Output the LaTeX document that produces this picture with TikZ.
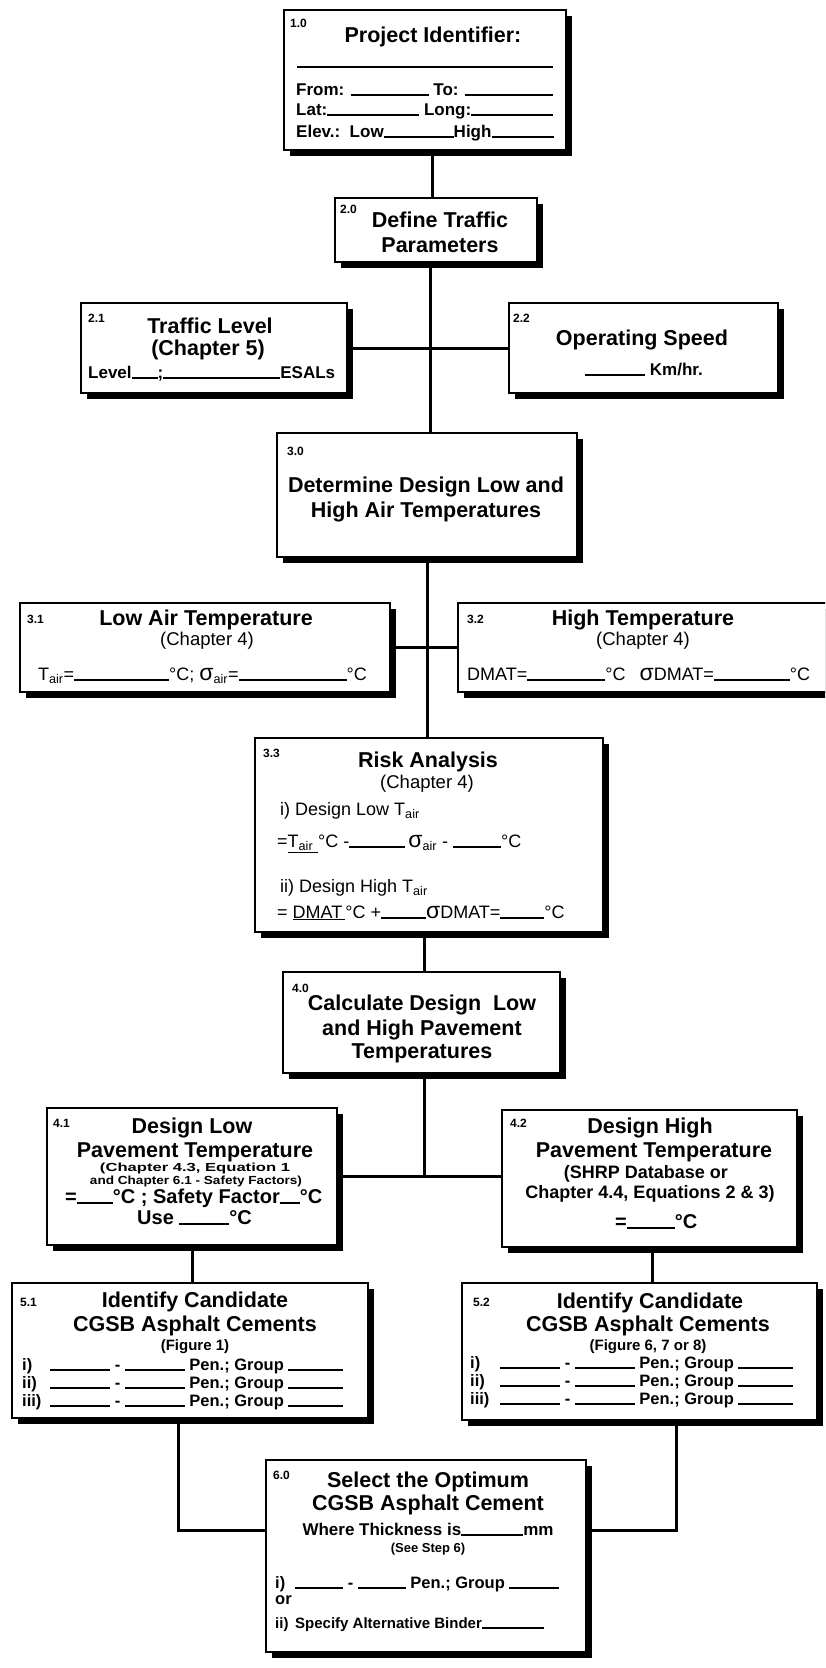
\documentclass[tikz,border=0pt]{standalone}
\usepackage{fontspec}
\setmainfont{Liberation Sans}
\usepackage{graphicx}
\usetikzlibrary{shadows}
\newcommand{\bl}[1]{\rule[-0.6pt]{#1pt}{1.8pt}}
\newcommand{\sbs}[1]{\textsubscript{#1}}
\newcommand{\sig}{{\fontsize{23}{23}\selectfont σ}}
\newcommand{\crow}[4]{\makebox[#1pt][l]{#2}\bl{#3} - \bl{#3} Pen.; Group \bl{#4}}
\newcommand{\bx}[5]{\node[box, minimum width={#4pt-#2pt}, minimum height={#5pt-#3pt}] (#1) at ({(#2+#4)/2},{(#3+#5)/2}) {};}
\begin{document}
\begin{tikzpicture}[x=1pt,y=-1pt,
  box/.style={draw, line width=2.6pt, fill=white, inner sep=0pt,
    drop shadow={shadow xshift=6pt, shadow yshift=-6pt, fill=black, opacity=1}},
  num/.style={anchor=base west, inner sep=0pt, font=\fontsize{12}{14}\selectfont\bfseries},
  ttl/.style={anchor=base, inner sep=0pt, font=\fontsize{21.5}{24}\selectfont\bfseries},
  chp/.style={anchor=base, inner sep=0pt, font=\fontsize{18.5}{20}\selectfont},
  med/.style={anchor=base, inner sep=0pt, font=\fontsize{18}{20}\selectfont\bfseries},
  txt/.style={anchor=base west, inner sep=0pt, font=\fontsize{17}{20}\selectfont\bfseries},
  ctx/.style={anchor=base, inner sep=0pt, font=\fontsize{17}{20}\selectfont\bfseries},
  rtx/.style={anchor=base west, inner sep=0pt, font=\fontsize{18}{20}\selectfont},
  row/.style={anchor=base west, inner sep=0pt, font=\fontsize{16.5}{18}\selectfont\bfseries},
  wire/.style={line width=3pt}]
\useasboundingbox (0,0) rectangle (825,1668);
\clip (0,0) rectangle (825,1668);
\fill[white] (0,0) rectangle (825,1668);

% boxes
\bx{b10}{284}{10}{566}{150}
\bx{b20}{335}{198}{537}{262}
\bx{b21}{81}{303}{347}{393}
\bx{b22}{509}{303}{778}{393}
\bx{b30}{277}{433}{577}{557}
\bx{b31}{20}{603}{390}{692}
\bx{b32}{458}{603}{840}{692}
\bx{b33}{255}{738}{603}{932}
\bx{b40}{283}{972}{560}{1073}
\bx{b41}{47}{1108}{337}{1245}
\bx{b42}{502}{1110}{797}{1247}
\bx{b51}{12}{1283}{368}{1418}
\bx{b52}{462}{1283}{817}{1420}
\bx{b60}{266}{1460}{586}{1652}

% connectors
\coordinate (s1) at (432,0);
\coordinate (s2) at (430,0);
\coordinate (s3) at (427,0);
\coordinate (s4) at (424,0);
\coordinate (s5) at (652,0);
\coordinate (c1) at (178,1530);
\coordinate (c2) at (676,1530);
\draw[wire] (b10.south -| s1) -- (b20.north -| s1);
\draw[wire] (b20.south -| s2) -- (b30.north -| s2);
\draw[wire] (b21.east) -- (b21.east -| b22.west);
\draw[wire] (b30.south -| s3) -- (b33.north -| s3);
\draw[wire] (b31.east) -- (b31.east -| b32.west);
\draw[wire] (b33.south -| s4) -- (b40.north -| s4);
\draw[wire] (b40.south -| s4) -- (b41.east -| s4);
\draw[wire] (b41.east) -- (b41.east -| b42.west);
\draw[wire] (b41.south) -- (b41.south |- b51.north);
\draw[wire] (b42.south -| s5) -- (b52.north -| s5);
\draw[wire] (b51.south -| c1) |- (b60.west |- c1);
\draw[wire] (b52.south -| c2) |- (b60.east |- c2);

% 1.0
\node[num] (n10) at (290,27) {1.0};
\node[ttl] (t10) at (433,42) {Project Identifier:};
\draw[line width=1.8pt] (297,67) -- (553,67);
\node[txt] (r101) at (296,95) {From: \bl{78} To: \bl{88}};
\node[txt] (r102) at (296,115) {Lat:\bl{92} Long:\bl{82}};
\node[txt] (r103) at (296,137) {Elev.:\ \ Low\bl{70}High\bl{62}};

% 2.0
\node[num] (n20) at (340,213) {2.0};
\node[ttl] (t20a) at (440,227) {Define Traffic};
\node[ttl] (t20b) at (440,252) {Parameters};

% 2.1
\node[num] (n21) at (88,322) {2.1};
\node[ttl] (t21a) at (210,333) {Traffic Level};
\node[ttl] (t21b) at (208,355) {(Chapter 5)};
\node[txt] (r21) at (88,378) {Level\bl{26};\bl{117}ESALs};

% 2.2
\node[num] (n22) at (513,322) {2.2};
\node[ttl] (t22) at (642,345) {Operating Speed};
\node[txt] (r22) at (585,375) {\bl{60} Km/hr.};

% 3.0
\node[num] (n30) at (287,455) {3.0};
\node[ttl] (t30a) at (426,492) {Determine Design Low and};
\node[ttl] (t30b) at (426,517) {High Air Temperatures};

% 3.1
\node[num] (n31) at (27,623) {3.1};
\node[ttl] (t31) at (206,625) {Low Air Temperature};
\node[chp] (c31) at (207,645) {(Chapter 4)};
\node[rtx] (r31) at (38,680) {T\sbs{air}=\bl{95}°C; \sig\sbs{air}=\bl{108}°C};

% 3.2
\node[num] (n32) at (467,623) {3.2};
\node[ttl] (t32) at (643,625) {High Temperature};
\node[chp] (c32) at (643,645) {(Chapter 4)};
\node[rtx] (r32) at (467,680) {DMAT=\bl{78}°C\hspace{14pt}\sig DMAT=\bl{76}°C};

% 3.3
\node[num] (n33) at (263,757) {3.3};
\node[ttl] (t33) at (428,767) {Risk Analysis};
\node[chp] (c33) at (427,788) {(Chapter 4)};
\node[rtx] (r331) at (280,815) {i) Design Low T\sbs{air}};
\node[rtx] (r332) at (277,847) {=\underline{T\sbs{air}\ }°C -\bl{56}\,\sig\sbs{air} - \bl{48}°C};
\node[rtx] (r333) at (280,892) {ii) Design High T\sbs{air}};
\node[rtx] (r334) at (277,918) {= \underline{DMAT\,}°C +\bl{45}\sig DMAT=\bl{44}°C};

% 4.0
\node[num] (n40) at (292,992) {4.0};
\node[ttl] (t40a) at (422,1010) {Calculate Design\ \ Low};
\node[ttl] (t40b) at (422,1035) {and High Pavement};
\node[ttl] (t40c) at (422,1058) {Temperatures};

% 4.1
\node[num] (n41) at (53,1127) {4.1};
\node[ttl] (t41a) at (192,1133) {Design Low};
\node[ttl] (t41b) at (195,1157) {Pavement Temperature};
\node[anchor=base, inner sep=0pt] (c41a) at (195,1171) {\resizebox{190pt}{8.5pt}{\fontsize{12}{14}\selectfont\bfseries (Chapter 4.3, Equation 1}};
\node[anchor=base, inner sep=0pt] (c41b) at (196,1184) {\resizebox{212pt}{8.5pt}{\fontsize{12}{14}\selectfont\bfseries and Chapter 6.1 - Safety Factors)}};
\node[anchor=base west, inner sep=0pt, font=\fontsize{20}{22}\selectfont\bfseries] (r411) at (65,1203) {=\bl{36}°C ; Safety Factor\bl{20}°C};
\node[anchor=base west, inner sep=0pt, font=\fontsize{20}{22}\selectfont\bfseries] (r412) at (137,1224) {Use \bl{50}°C};

% 4.2
\node[num] (n42) at (510,1127) {4.2};
\node[ttl] (t42a) at (650,1133) {Design High};
\node[ttl] (t42b) at (654,1157) {Pavement Temperature};
\node[med] (c42a) at (646,1178) {(SHRP Database or};
\node[med] (c42b) at (650,1198) {Chapter 4.4, Equations 2 \& 3)};
\node[anchor=base west, inner sep=0pt, font=\fontsize{20}{22}\selectfont\bfseries] (r42) at (615,1228) {=\bl{48}°C};

% 5.1
\node[num] (n51) at (20,1306) {5.1};
\node[ttl] (t51a) at (195,1307) {Identify Candidate};
\node[ttl] (t51b) at (195,1331) {CGSB Asphalt Cements};
\node[anchor=base, inner sep=0pt, font=\fontsize{15}{17}\selectfont\bfseries] (c51) at (195,1350) {(Figure 1)};
\node[row] (r511) at (22,1370) {\crow{28}{i)}{60}{55}};
\node[row] (r512) at (22,1388) {\crow{28}{ii)}{60}{55}};
\node[row] (r513) at (22,1406) {\crow{28}{iii)}{60}{55}};

% 5.2
\node[num] (n52) at (473,1306) {5.2};
\node[ttl] (t52a) at (650,1308) {Identify Candidate};
\node[ttl] (t52b) at (648,1331) {CGSB Asphalt Cements};
\node[anchor=base, inner sep=0pt, font=\fontsize{15}{17}\selectfont\bfseries] (c52) at (648,1350) {(Figure 6, 7 or 8)};
\node[row] (r521) at (470,1368) {\crow{30}{i)}{60}{55}};
\node[row] (r522) at (470,1386) {\crow{30}{ii)}{60}{55}};
\node[row] (r523) at (470,1404) {\crow{30}{iii)}{60}{55}};

% 6.0
\node[num] (n60) at (273,1479) {6.0};
\node[ttl] (t60a) at (428,1487) {Select the Optimum};
\node[ttl] (t60b) at (428,1510) {CGSB Asphalt Cement};
\node[ctx] (w60) at (428,1535) {Where Thickness is\bl{62}mm};
\node[anchor=base, inner sep=0pt, font=\fontsize{13}{15}\selectfont\bfseries] (c60) at (428,1552) {(See Step 6)};
\node[row] (r601) at (275,1588) {\makebox[20pt][l]{i)}\bl{48} - \bl{48} Pen.; Group \bl{50}};
\node[row] (r602) at (275,1604) {or};
\node[anchor=base west, inner sep=0pt, font=\fontsize{15}{17}\selectfont\bfseries] (r603) at (275,1628) {\makebox[20pt][l]{ii)}Specify Alternative Binder\bl{62}};
\end{tikzpicture}
\end{document}
